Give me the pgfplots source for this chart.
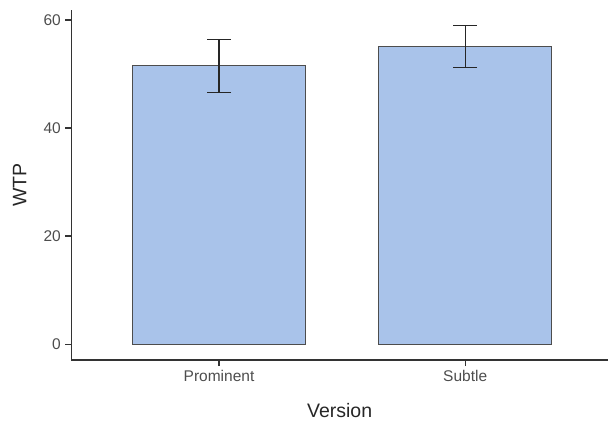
\documentclass[border=0pt]{standalone}
\usepackage{pgfplots}
\pgfplotsset{compat=1.18}
\usepackage{fontspec}
\setmainfont{Liberation Sans}
\definecolor{barfill}{HTML}{A9C3EA}
\definecolor{bardraw}{HTML}{4D4D4D}
\definecolor{ticktext}{HTML}{4D4D4D}
\definecolor{axisline}{HTML}{333333}
\begin{document}
\begin{tikzpicture}
\begin{axis}[
  at={(0,0)}, anchor=south west,
  scale only axis,
  width=536.7pt, height=350pt,
  xmin=0.4, xmax=2.58,
  ymin=-2.95, ymax=61.85,
  xtick={1,2}, xticklabels={Prominent,Subtle},
  ytick={0,20,40,60},
  axis x line*=bottom, axis y line*=left,
  axis line style={draw=axisline, line width=1.1pt},
  tick align=outside,
  major tick length=6pt,
  tick style={draw=axisline, line width=1.1pt},
  /pgf/number format/assume math mode=true,
  ticklabel style={font=\fontsize{15.5}{18}\selectfont, text=ticktext},
  yticklabel style={xshift=-1pt},
  xticklabel style={yshift=-1pt},
  xlabel={Version}, ylabel={WTP},
  label style={font=\fontsize{19.5}{23}\selectfont, text=black!85},
  xlabel style={at={(axis description cs:0.5,-0.144)}, anchor=center},
  ylabel style={at={(axis description cs:-0.096,0.5)}, anchor=center},
  clip=false,
]
\addplot[ybar, bar width=172.6pt, fill=barfill, draw=bardraw, line width=1.1pt,
  error bars/.cd, y dir=both, y explicit,
  error bar style={line width=1.1pt, draw=black!85},
  error mark options={rotate=90, mark size=12pt, line width=1.1pt, draw=black!85}]
  coordinates {
    (1,51.5) +- (0,4.95)
    (2,55.1) +- (0,3.9)
  };
\end{axis}
\pgfresetboundingbox
\path (-71.3pt,-61pt) rectangle (536.7pt,360pt);
\end{tikzpicture}
\end{document}
